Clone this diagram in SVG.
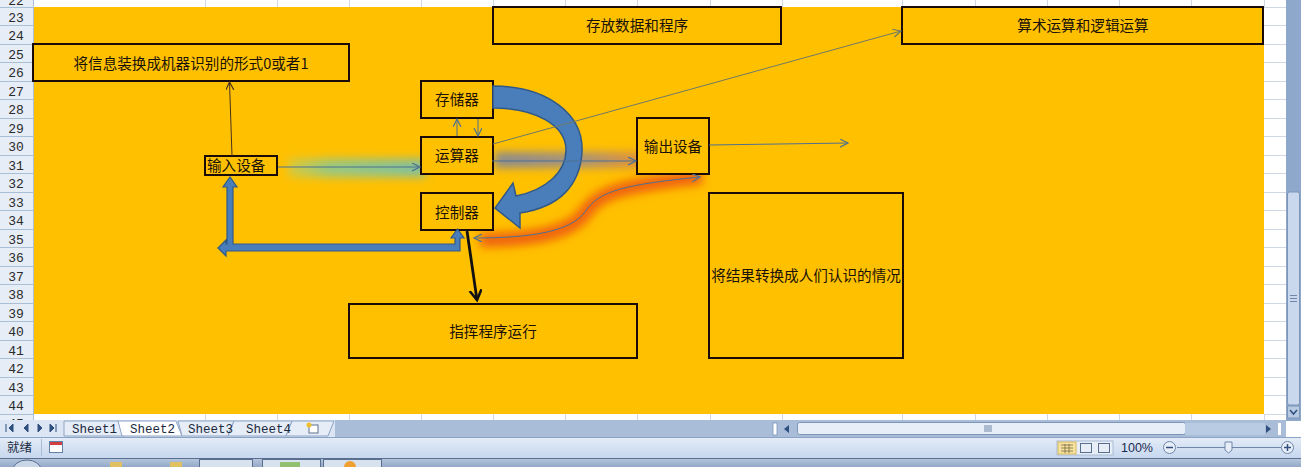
<svg xmlns="http://www.w3.org/2000/svg" width="1301" height="467" viewBox="0 0 1301 467">
<style>
.box{fill:#ffc000;stroke:#1a0a08;stroke-width:2}
.t{font-family:"Noto Sans CJK SC","Noto Sans",sans-serif;font-size:14.6px;fill:#1a1208}
.rn{font-family:"Liberation Mono",monospace;font-size:13px;fill:#2a2a2a;text-anchor:middle}
.tab{font-family:"Liberation Mono",monospace;font-size:12.5px;fill:#1a2a40}
.grid{stroke:#d0d7e5;stroke-width:1}
.hdr{stroke:#a9bfd6;stroke-width:1}
.thin{fill:none;stroke-width:1}
</style>
<defs>
<marker id="aBlue" markerUnits="userSpaceOnUse" markerWidth="12" markerHeight="12" refX="8" refY="4" orient="auto-start-reverse"><path d="M0,0 L8,4 L0,8" fill="none" stroke="#4f7090" stroke-width="1.2"/></marker>
<marker id="aBrown" markerUnits="userSpaceOnUse" markerWidth="12" markerHeight="12" refX="8" refY="4" orient="auto"><path d="M0,0 L8,4 L0,8" fill="none" stroke="#4a3020" stroke-width="1.2"/></marker>
<marker id="aOlive" markerUnits="userSpaceOnUse" markerWidth="12" markerHeight="12" refX="8" refY="4" orient="auto"><path d="M0,0 L8,4 L0,8" fill="none" stroke="#6f7a66" stroke-width="1.2"/></marker>
<marker id="aBlack" markerUnits="userSpaceOnUse" markerWidth="16" markerHeight="16" refX="10" refY="6" orient="auto"><path d="M0,0 L10,6 L0,12" fill="none" stroke="#111" stroke-width="2.6"/></marker>
<filter id="blur5" filterUnits="userSpaceOnUse" x="0" y="0" width="1301" height="467"><feGaussianBlur stdDeviation="5"/></filter>
<filter id="blur4" filterUnits="userSpaceOnUse" x="0" y="0" width="1301" height="467"><feGaussianBlur stdDeviation="4"/></filter>
<linearGradient id="gGreen" gradientUnits="userSpaceOnUse" x1="285" y1="0" x2="425" y2="0"><stop offset="0" stop-color="#b8d070" stop-opacity="0.5"/><stop offset="0.3" stop-color="#98c880"/><stop offset="1" stop-color="#80c0a0"/></linearGradient>
<linearGradient id="gGrey" gradientUnits="userSpaceOnUse" x1="495" y1="0" x2="640" y2="0"><stop offset="0" stop-color="#8a8a90"/><stop offset="0.6" stop-color="#a8937a"/><stop offset="1" stop-color="#e0903a"/></linearGradient>
<linearGradient id="gStatus" x1="0" y1="0" x2="0" y2="1"><stop offset="0" stop-color="#e4ecf7"/><stop offset="1" stop-color="#c7d7ee"/></linearGradient>
<linearGradient id="gTask" x1="0" y1="0" x2="0" y2="1"><stop offset="0" stop-color="#b8c8de"/><stop offset="1" stop-color="#93a9c8"/></linearGradient>
<clipPath id="hdrClip"><rect x="0" y="0" width="33" height="420"/></clipPath>
</defs>

<!-- sheet background -->
<rect x="0" y="0" width="1301" height="467" fill="#ffffff"/>
<rect x="33" y="7" width="1231" height="407" fill="#ffc000"/>

<!-- gridlines in white margins -->
<g id="gridlines">
<path class="grid" d="M205.5,0V7 M277.5,0V7 M349.5,0V7 M421.5,0V7 M493.5,0V7 M565.5,0V7 M637.5,0V7 M710.5,0V7 M782.5,0V7 M902.5,0V7 M975.5,0V7 M1047.5,0V7 M1119.5,0V7 M1191.5,0V7 M1264.5,0V7
M205.5,414V420 M277.5,414V420 M349.5,414V420 M421.5,414V420 M493.5,414V420 M565.5,414V420 M637.5,414V420 M710.5,414V420 M782.5,414V420 M902.5,414V420 M975.5,414V420 M1047.5,414V420 M1119.5,414V420 M1191.5,414V420 M1264.5,414V420
M1264,25.5H1286 M1264,44.5H1286 M1264,62.5H1286 M1264,81.5H1286 M1264,99.5H1286 M1264,118.5H1286 M1264,136.5H1286 M1264,155.5H1286 M1264,173.5H1286 M1264,192.5H1286 M1264,210.5H1286 M1264,229.5H1286 M1264,247.5H1286 M1264,266.5H1286 M1264,284.5H1286 M1264,303.5H1286 M1264,321.5H1286 M1264,340.5H1286 M1264,358.5H1286 M1264,377.5H1286 M1264,395.5H1286 M1264,414.5H1286 M1264,7.5H1286"/>
</g>

<!-- row header -->
<g id="rowheader">
<rect x="0" y="0" width="33" height="420" fill="#e6edf7"/>
<path class="hdr" d="M0,7.5H33 M0,25.5H33 M0,44.5H33 M0,62.5H33 M0,81.5H33 M0,99.5H33 M0,118.5H33 M0,136.5H33 M0,155.5H33 M0,173.5H33 M0,192.5H33 M0,210.5H33 M0,229.5H33 M0,247.5H33 M0,266.5H33 M0,284.5H33 M0,303.5H33 M0,321.5H33 M0,340.5H33 M0,358.5H33 M0,377.5H33 M0,395.5H33 M0,414.5H33 M33.5,0V420"/>
<g clip-path="url(#hdrClip)">
<text class="rn" x="16" y="5">22</text>
<text class="rn" x="16" y="22">23</text>
<text class="rn" x="16" y="40">24</text>
<text class="rn" x="16" y="59">25</text>
<text class="rn" x="16" y="77">26</text>
<text class="rn" x="16" y="96">27</text>
<text class="rn" x="16" y="114">28</text>
<text class="rn" x="16" y="133">29</text>
<text class="rn" x="16" y="151">30</text>
<text class="rn" x="16" y="170">31</text>
<text class="rn" x="16" y="188">32</text>
<text class="rn" x="16" y="207">33</text>
<text class="rn" x="16" y="225">34</text>
<text class="rn" x="16" y="244">35</text>
<text class="rn" x="16" y="262">36</text>
<text class="rn" x="16" y="281">37</text>
<text class="rn" x="16" y="299">38</text>
<text class="rn" x="16" y="318">39</text>
<text class="rn" x="16" y="336">40</text>
<text class="rn" x="16" y="355">41</text>
<text class="rn" x="16" y="373">42</text>
<text class="rn" x="16" y="392">43</text>
<text class="rn" x="16" y="410">44</text>
<text class="rn" x="16" y="428">45</text>
</g>
</g>

<!-- glows under connectors -->
<g id="glows">
<line x1="288" y1="168" x2="426" y2="168" stroke="url(#gGreen)" stroke-width="18" filter="url(#blur5)"/>
<line x1="495" y1="160" x2="642" y2="160" stroke="url(#gGrey)" stroke-width="16" filter="url(#blur4)"/>
<path d="M480 240 C530 240, 570 234, 585 213 C598 193, 620 186, 702 177" fill="none" stroke="#f0600c" stroke-width="14" filter="url(#blur5)"/>
</g>

<!-- nodes -->
<g id="n-info"><rect class="box" x="33" y="44" width="316" height="37"/><text class="t" x="191" y="69" text-anchor="middle">将信息装换成机器识别的形式0或者1</text></g>
<g id="n-store-desc"><rect class="box" x="493" y="7" width="288" height="37"/><text class="t" x="637" y="31" text-anchor="middle">存放数据和程序</text></g>
<g id="n-alu-desc"><rect class="box" x="902" y="7" width="361" height="37"/><text class="t" x="1083" y="31" text-anchor="middle">算术运算和逻辑运算</text></g>
<g id="n-memory"><rect class="box" x="421" y="81" width="72" height="37"/><text class="t" x="457" y="105" text-anchor="middle">存储器</text></g>
<g id="n-alu"><rect class="box" x="421" y="137" width="72" height="37"/><text class="t" x="457" y="161" text-anchor="middle">运算器</text></g>
<g id="n-ctrl"><rect class="box" x="421" y="193" width="72" height="37"/><text class="t" x="457" y="218" text-anchor="middle">控制器</text></g>
<g id="n-input"><rect class="box" x="205" y="156" width="72" height="19"/><text class="t" x="207" y="171">输入设备</text></g>
<g id="n-output"><rect class="box" x="637" y="118" width="72" height="56"/><text class="t" x="673" y="152" text-anchor="middle">输出设备</text></g>
<g id="n-result"><rect class="box" x="709" y="193" width="194" height="165"/><text class="t" x="806" y="281" text-anchor="middle">将结果转换成人们认识的情况</text></g>
<g id="n-run"><rect class="box" x="349" y="304" width="288" height="54"/><text class="t" x="493" y="337" text-anchor="middle">指挥程序运行</text></g>

<!-- connectors -->
<g id="connectors">
<path d="M493 86 C548 86, 584 115, 582 152 C580 185, 560 207, 520 213 L520 228 L495 208 L513 183 L516 196 C546 190, 566 172, 566 150 C566 125, 535 108, 493 108 Z" fill="#4a7ebb" stroke="#30598a" stroke-width="1.5"/>
<path d="M218 248 L226 240 L226 244 L227 244 L227 187 L223 187 L230 177 L237 187 L233 187 L233 244 L455 244 L455 238 L451 238 L457.5 229 L464 238 L460 238 L460 251 L226 251 L226 256 Z" fill="#4a7ebb" stroke="#30598a" stroke-width="1.2"/>
<line class="thin" x1="232" y1="156" x2="229.5" y2="82" stroke="#4a3020" marker-end="url(#aBrown)"/>
<line class="thin" x1="278" y1="167" x2="420" y2="167" stroke="#4f7090" marker-end="url(#aBlue)"/>
<line class="thin" x1="457" y1="136" x2="457" y2="119" stroke="#4f7090" marker-end="url(#aBlue)"/>
<line class="thin" x1="478" y1="119" x2="478" y2="136" stroke="#4f7090" marker-end="url(#aBlue)"/>
<line class="thin" x1="493" y1="144" x2="901" y2="31" stroke="#6f7a66" marker-end="url(#aOlive)"/>
<line class="thin" x1="492" y1="161" x2="636" y2="161" stroke="#4f7090" marker-end="url(#aBlue)"/>
<line class="thin" x1="709" y1="145" x2="848" y2="143" stroke="#4f7090" marker-end="url(#aBlue)"/>
<path class="thin" d="M474 238 C530 238, 570 232, 585 212 C598 192, 620 185, 700 177" stroke="#4f7090" marker-start="url(#aBlue)" marker-end="url(#aBlue)"/>
<line x1="467" y1="231" x2="477" y2="300" stroke="#111" stroke-width="2.8" marker-end="url(#aBlack)"/>
</g>

<!-- vertical scrollbar -->
<g id="vscroll">
<rect x="1286" y="0" width="15" height="421" fill="#8ea8cc"/>
<rect x="1287.5" y="192" width="12" height="213" rx="2" fill="#c9d8ec" stroke="#7d95b8"/>
<path d="M1290 295.5H1297 M1290 298.5H1297 M1290 301.5H1297" stroke="#6f86a8"/>
<rect x="1287.5" y="406" width="12" height="12" fill="#b8cae2" stroke="#7d95b8"/>
<path d="M1290 410 L1293.5 414 L1297 410" fill="none" stroke="#2f4f7f" stroke-width="1.5"/>
</g>

<!-- sheet tab bar -->
<g id="tabbar">
<rect x="0" y="420" width="770" height="17" fill="#a9bdd9"/>
<rect x="0" y="420" width="335" height="17" fill="#dbe5f3"/>
<path d="M6 424V432 M9 428L13 424V432Z M24 428L28 424V432Z M38 424V432L42 428Z M50 424V432L54 428Z M56 424V432" fill="#2f4f7f" stroke="#2f4f7f" stroke-width="1"/>
<path d="M64 421 H118 L124 436 H64Z" fill="#e6edf7" stroke="#8ba3c4"/>
<path d="M118 421 H176 L182 436 H122Z" fill="#ffffff" stroke="#8ba3c4"/>
<path d="M178 421 H234 L228 436 H182Z" fill="#e6edf7" stroke="#8ba3c4"/>
<path d="M234 421 H292 L286 436 H228Z" fill="#e6edf7" stroke="#8ba3c4"/>
<path d="M292 421 H334 L328 436 H286Z" fill="#e6edf7" stroke="#8ba3c4"/>
<text class="tab" x="72" y="433">Sheet1</text>
<text class="tab" x="130" y="433">Sheet2</text>
<text class="tab" x="188" y="433">Sheet3</text>
<text class="tab" x="246" y="433">Sheet4</text>
<rect x="309" y="425" width="9" height="8" fill="#ffffff" stroke="#5a6f8f"/>
<circle cx="309" cy="425" r="2.5" fill="#f0c030"/>
</g>

<!-- horizontal scrollbar -->
<g id="hscroll">
<rect x="770" y="420" width="516" height="17" fill="#a9bdd9"/>
<rect x="773" y="423" width="4" height="12" fill="#ffffff" stroke="#7d95b8" stroke-width="0.8"/>
<path d="M789 425 L784 429 L789 433Z" fill="#2f4f7f"/>
<rect x="797.5" y="422.5" width="388" height="12" rx="2" fill="#e8eef7" stroke="#7d95b8"/>
<path d="M985 425V432 M987 425V432 M989 425V432 M991 425V432" stroke="#6f86a8"/>
<rect x="1185" y="423" width="80" height="12" fill="#b9cbe3"/>
<path d="M1266 425 L1271 429 L1266 433Z" fill="#2f4f7f"/>
<rect x="1278" y="423" width="3" height="12" fill="#ffffff"/>
</g>

<!-- status bar -->
<g id="statusbar">
<rect x="0" y="437" width="1301" height="21" fill="url(#gStatus)"/>
<line x1="0" y1="437.5" x2="1301" y2="437.5" stroke="#8ba3c4"/>
<text x="7" y="452" style="font-family:'Noto Sans CJK SC',sans-serif;font-size:12.5px;fill:#1a2a40">就绪</text>
<line x1="41.5" y1="439" x2="41.5" y2="456" stroke="#a9bcd6"/>
<rect x="49.5" y="441.5" width="13" height="11" fill="#ffffff" stroke="#6080a8"/>
<rect x="50" y="442" width="12" height="3" fill="#d04040"/>
<rect x="1057" y="441" width="56" height="14" fill="#e8eef7" stroke="#a9bcd6"/>
<rect x="1058" y="442" width="18" height="12" fill="#f7e3a0" stroke="#d8b860"/>
<path d="M1061 445H1073 M1061 448H1073 M1061 451H1073 M1065 444V453 M1069 444V453" stroke="#7a6a40" stroke-width="0.8"/>
<rect x="1080.5" y="443.5" width="11" height="9" fill="none" stroke="#5a6f8f"/>
<rect x="1098.5" y="443.5" width="11" height="9" fill="none" stroke="#5a6f8f"/>
<text x="1121" y="452" style="font-family:'Liberation Sans',sans-serif;font-size:12.5px;fill:#1a2a50">100%</text>
<circle cx="1169.5" cy="447.5" r="6" fill="#e8eef7" stroke="#6f86a8"/>
<line x1="1166" y1="447.5" x2="1173" y2="447.5" stroke="#2f4f7f" stroke-width="1.5"/>
<line x1="1177" y1="447.5" x2="1281" y2="447.5" stroke="#6f86a8"/>
<path d="M1225 442H1232V450L1228.5 453L1225 450Z" fill="#e8eef7" stroke="#6f86a8"/>
<circle cx="1287.5" cy="447.5" r="6" fill="#e8eef7" stroke="#6f86a8"/>
<path d="M1284 447.5H1291 M1287.5 444V451" stroke="#2f4f7f" stroke-width="1.5"/>
</g>

<!-- taskbar -->
<g id="taskbar">
<rect x="0" y="458" width="1301" height="9" fill="url(#gTask)"/>
<line x1="0" y1="458.5" x2="1301" y2="458.5" stroke="#5a6f8f"/>
<ellipse cx="27" cy="470" rx="14" ry="10" fill="#c9d6e8" stroke="#5a6f8f"/>
<rect x="110" y="462" width="12" height="6" fill="#e0c060"/>
<rect x="170" y="462" width="12" height="6" fill="#e0c060"/>
<rect x="199.5" y="459.5" width="53" height="9" fill="#d8e2ef" stroke="#5a6f8f"/>
<rect x="262.5" y="459.5" width="58" height="9" fill="#d8e2ef" stroke="#5a6f8f"/>
<rect x="323.5" y="459.5" width="58" height="9" fill="#d8e2ef" stroke="#5a6f8f"/>
<rect x="280" y="462" width="20" height="6" fill="#90c070"/>
<circle cx="350" cy="467" r="6" fill="#f0a030"/>
</g>
</svg>
